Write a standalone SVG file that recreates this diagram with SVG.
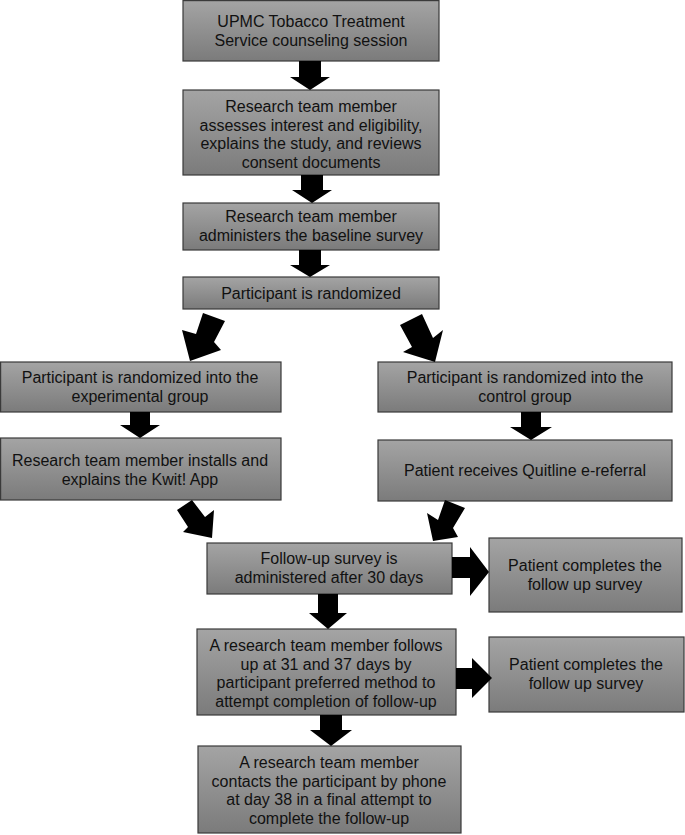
<svg xmlns="http://www.w3.org/2000/svg" width="685" height="835" viewBox="0 0 685 835">
<defs>
<linearGradient id="g" x1="0" y1="0" x2="0" y2="1">
<stop offset="0" stop-color="#a4a4a4"/>
<stop offset="1" stop-color="#7b7b7b"/>
</linearGradient>
<style>
.box{fill:url(#g);stroke:#3a3a3a;stroke-width:1.2}
.t{font-family:"Liberation Sans",Arial,sans-serif;font-size:16px;fill:#111;text-anchor:middle}
.a{fill:#000}
</style>
</defs>
<rect width="685" height="835" fill="#fff"/>
<g id="n1"><rect class="box" x="183" y="0.6" width="256" height="60.4"/>
<text class="t" x="311" y="27">UPMC Tobacco Treatment</text><text class="t" x="311" y="46">Service counseling session</text></g>
<g id="n2"><rect class="box" x="183" y="90" width="256" height="85"/>
<text class="t" x="311" y="112">Research team member</text><text class="t" x="311" y="130.5">assesses interest and eligibility,</text><text class="t" x="311" y="149">explains the study, and reviews</text><text class="t" x="311" y="167.5">consent documents</text></g>
<g id="n3"><rect class="box" x="183" y="203" width="256" height="47"/>
<text class="t" x="311" y="222">Research team member</text><text class="t" x="311" y="241">administers the baseline survey</text></g>
<g id="n4"><rect class="box" x="183" y="277" width="256" height="32"/>
<text class="t" x="311" y="299">Participant is randomized</text></g>
<g id="n5"><rect class="box" x="0.6" y="362" width="280.4" height="50"/>
<text class="t" x="140" y="383">Participant is randomized into the</text><text class="t" x="140" y="402">experimental group</text></g>
<g id="n6"><rect class="box" x="0.6" y="438" width="280.4" height="62"/>
<text class="t" x="140" y="466">Research team member installs and</text><text class="t" x="140" y="485">explains the Kwit! App</text></g>
<g id="n7"><rect class="box" x="378" y="362" width="294" height="50"/>
<text class="t" x="525" y="383">Participant is randomized into the</text><text class="t" x="525" y="402">control group</text></g>
<g id="n8"><rect class="box" x="378" y="440" width="294" height="61"/>
<text class="t" x="525" y="476">Patient receives Quitline e-referral</text></g>
<g id="n9"><rect class="box" x="207" y="543" width="245" height="51"/>
<text class="t" x="329" y="564">Follow-up survey is</text><text class="t" x="329" y="583">administered after 30 days</text></g>
<g id="n10"><rect class="box" x="489" y="538" width="193" height="74"/>
<text class="t" x="585" y="571">Patient completes the</text><text class="t" x="585" y="590">follow up survey</text></g>
<g id="n11"><rect class="box" x="197" y="629" width="259" height="86"/>
<text class="t" x="326" y="651">A research team member follows</text><text class="t" x="326" y="669.5">up at 31 and 37 days by</text><text class="t" x="326" y="688">participant preferred method to</text><text class="t" x="326" y="706.5">attempt completion of follow-up</text></g>
<g id="n12"><rect class="box" x="489" y="637" width="195" height="75"/>
<text class="t" x="586" y="670">Patient completes the</text><text class="t" x="586" y="689">follow up survey</text></g>
<g id="n13"><rect class="box" x="198" y="746" width="263" height="87"/>
<text class="t" x="329" y="768">A research team member</text><text class="t" x="329" y="786.5">contacts the participant by phone</text><text class="t" x="329" y="805">at day 38 in a final attempt to</text><text class="t" x="329" y="823.5">complete the follow-up</text></g>
<g id="connectors">
<polygon class="a" points="299,61 321,61 321,77 330,77 310,90 290,77 299,77"/>
<polygon class="a" points="301,175 323,175 323,190 332,190 312,203 292,190 301,190"/>
<polygon class="a" points="299,250 321,250 321,265 330,265 310,277 290,265 299,265"/>
<polygon class="a" points="203,313 225,321 214,342 221,350 190,361 182,330 196,334"/>
<polygon class="a" points="400,325 422,314 433,338 443,330 435,362 403,352 412,347"/>
<polygon class="a" points="130,412 150,412 150,425 160,425 140,438 120,425 130,425"/>
<polygon class="a" points="521,412 541,412 541,427 552,427 531,440 510,427 521,427"/>
<polygon class="a" points="177,510 192,500 205,517 214,510 212,538 183,532 188,527"/>
<polygon class="a" points="445,500 465,508 453,528 458,537 433,541 427,513 438,520"/>
<polygon class="a" points="452,557 470,557 470,547 489,572 470,596 470,578 452,578"/>
<polygon class="a" points="318,594 338,594 338,613 347,613 328,629 309,613 318,613"/>
<polygon class="a" points="456,668 472,668 472,658 492,678 472,698 472,689 456,689"/>
<polygon class="a" points="320,715 342,715 342,730 352,730 331,746 310,730 320,730"/>
</g>
</svg>
